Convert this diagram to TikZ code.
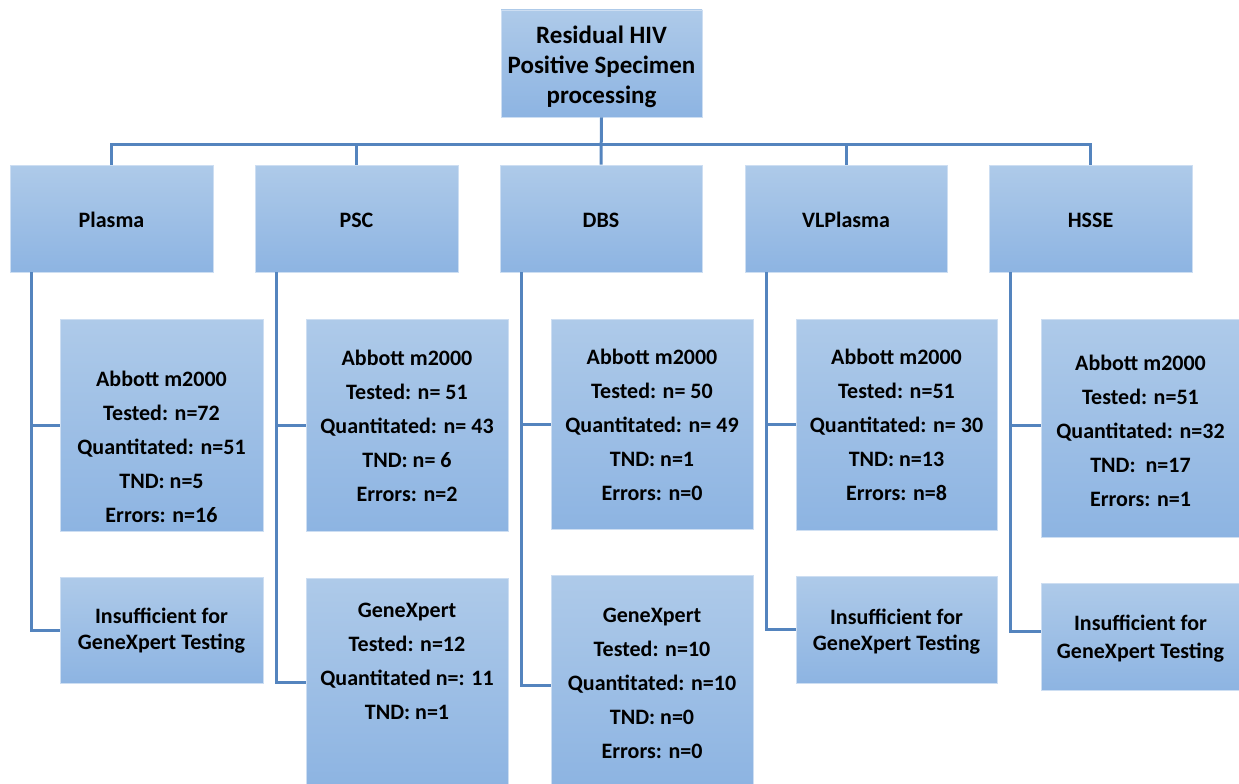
\documentclass[tikz,border=0pt]{standalone}
\usepackage{fontspec}
\setmainfont{Carlito}
\definecolor{boxtop}{RGB}{174,202,233}
\definecolor{boxbot}{RGB}{141,180,226}
\definecolor{boxedge}{RGB}{205,222,242}
\definecolor{conn}{RGB}{84,132,190}
\tikzset{
  box/.style={rectangle, inner sep=0pt, top color=boxtop, bottom color=boxbot, draw=boxedge, line width=0.8pt},
  txt/.style={inner sep=0pt, align=center, font=\bfseries\fontsize{22}{34}\selectfont},
  txttwo/.style={inner sep=0pt, align=center, font=\bfseries\fontsize{22}{26}\selectfont},
  txttop/.style={inner sep=0pt, align=center, font=\bfseries\fontsize{25}{30}\selectfont},
  conline/.style={draw=conn, line width=3pt}
}
\begin{document}
\begin{tikzpicture}[x=1pt,y=-1pt]
\useasboundingbox (0,0) rectangle (1239,784);
% top
\node[box, minimum width=201pt, minimum height=107pt] (top) at (601.5,63.5) {};
\node[txttop] (topt) at (601.5,66.5) {Residual HIV\\Positive Specimen\\processing};
% level 2
\node[box, minimum width=203pt, minimum height=107pt] (plasma) at (111.5,218.5) {};
\node[box, minimum width=203pt, minimum height=107pt] (psc) at (356.5,218.5) {};
\node[box, minimum width=202pt, minimum height=107pt] (dbs) at (601,218.5) {};
\node[box, minimum width=202pt, minimum height=107pt] (vl) at (846,218.5) {};
\node[box, minimum width=203pt, minimum height=107pt] (hsse) at (1090.5,218.5) {};
\node[txt] (plasmat) at (111.5,220) {Plasma};
\node[txt] (psct) at (356.5,220) {PSC};
\node[txt] (dbst) at (601,220) {DBS};
\node[txt] (vlt) at (846,220) {VLPlasma};
\node[txt] (hsset) at (1090.5,220) {HSSE};
% level 3
\node[box, minimum width=203pt, minimum height=212pt] (pA) at (161.5,425) {};
\node[box, minimum width=203pt, minimum height=106pt] (pI) at (161.5,630) {};
\node[box, minimum width=202pt, minimum height=212pt] (sA) at (407,425) {};
\node[box, minimum width=202pt, minimum height=208pt] (sG) at (407,682) {};
\node[box, minimum width=202pt, minimum height=210pt] (dA) at (652,424) {};
\node[box, minimum width=202pt, minimum height=210pt] (dG) at (652,680) {};
\node[box, minimum width=201pt, minimum height=211pt] (vA) at (896.5,424.5) {};
\node[box, minimum width=201pt, minimum height=107pt] (vI) at (896.5,629.5) {};
\node[box, minimum width=199pt, minimum height=218pt] (hA) at (1140.5,428) {};
\node[box, minimum width=199pt, minimum height=107pt] (hI) at (1140.5,636.5) {};
\node[txt] (pAt) at (161.5,447) {Abbott m2000\\Tested: n=72\\Quantitated: n=51\\TND: n=5\\Errors: n=16};
\node[txttwo] (pIt) at (161.5,630.5) {Insufficient for\\GeneXpert Testing};
\node[txt] (sAt) at (407,426) {Abbott m2000\\Tested: n= 51\\Quantitated: n= 43\\TND: n= 6\\Errors: n=2};
\node[txt] (sGt) at (407,661.5) {GeneXpert\\Tested: n=12\\Quantitated n=: 11\\TND: n=1};
\node[txt] (dAt) at (652,425) {Abbott m2000\\Tested: n= 50\\Quantitated: n= 49\\TND: n=1\\Errors: n=0};
\node[txt] (dGt) at (652,683) {GeneXpert\\Tested: n=10\\Quantitated: n=10\\TND: n=0\\Errors: n=0};
\node[txt] (vAt) at (896.5,425) {Abbott m2000\\Tested: n=51\\Quantitated: n= 30\\TND: n=13\\Errors: n=8};
\node[txttwo] (vIt) at (896.5,631.5) {Insufficient for\\GeneXpert Testing};
\node[txt] (hAt) at (1140.5,430.5) {Abbott m2000\\Tested: n=51\\Quantitated: n=32\\TND:\ \ n=17\\Errors: n=1};
\node[txt, font=\bfseries\fontsize{22}{28}\selectfont] (hIt) at (1140.5,639) {Insufficient for\\GeneXpert Testing};
% bus
\coordinate (busL) at (111.5,144);
\coordinate (busR) at (1090.5,144);
\draw[conline] (top.south) -- (dbs.north);
\draw[conline] (plasma.north) -- (busL) -- (busR) -- (hsse.north);
\draw[conline] (psc.north) -- (psc.north |- busL);
\draw[conline] (vl.north) -- (vl.north |- busL);
% branches
\coordinate (pv) at (31,272);
\coordinate (sv) at (276,272);
\coordinate (dv) at (521,272);
\coordinate (vv) at (766,272);
\coordinate (hv) at (1010,272);
\draw[conline] (pv) |- (pI.west);
\draw[conline] (pv |- pA.west) -- (pA.west);
\draw[conline] (sv) |- (sG.west);
\draw[conline] (sv |- sA.west) -- (sA.west);
\coordinate (dGc) at (551,685);
\draw[conline] (dv) |- (dGc);
\draw[conline] (dv |- dA.west) -- (dA.west);
\draw[conline] (vv) |- (vI.west);
\draw[conline] (vv |- vA.west) -- (vA.west);
\coordinate (hIc) at (1041,631);
\coordinate (hAc) at (1041,425);
\draw[conline] (hv) |- (hIc);
\draw[conline] (hv |- hAc) -- (hAc);
\end{tikzpicture}
\end{document}
